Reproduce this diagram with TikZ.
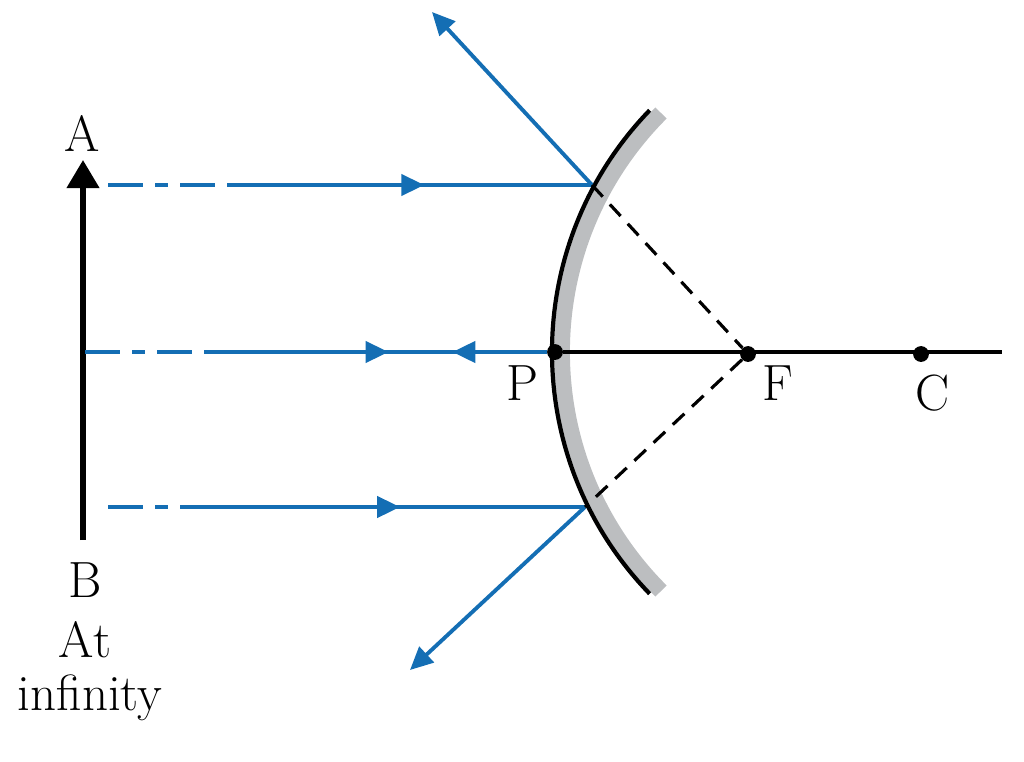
\documentclass[tikz,border=0pt]{standalone}
\usetikzlibrary{decorations.markings,arrows.meta}
\definecolor{rayblue}{RGB}{20,110,180}
\definecolor{mirgrey}{RGB}{188,190,192}
\begin{document}
\begin{tikzpicture}[x=0.02cm,y=-0.02cm,
  ray/.style={rayblue,line width=2.2pt},
  dd/.style={rayblue,line width=2.2pt,dash pattern=on 20pt off 7pt on 7pt off 7pt},
  midarr/.style={postaction={decorate},decoration={markings,mark=at position #1 with {\arrow{Triangle[length=13pt,width=12pt]}}}},
  lbl/.style={font=\fontsize{29}{31}\selectfont},
  dot/.style={circle,fill=black,inner sep=0pt,minimum size=9pt}]
\useasboundingbox (0,0) rectangle (1024,761);
% mirror
\draw[mirgrey,line width=9pt] (900,352) ++(135:338) arc (135:225:338);
\draw[black,line width=2.4pt] (900,352) ++(136:348) arc (136:224:348);
% axis
\coordinate (axend) at (1002,352);
\node[dot] (P) at (555,352) {};
\node[dot] (F) at (748,354) {};
\node[dot] (C) at (921,354) {};
\draw[line width=2.4pt] (P) -- (axend);
\node[lbl] at (522,383) {P};
\node[lbl] at (778,383) {F};
\node[lbl] at (933,393) {C};
% object
\coordinate (Bt) at (83,540);
\coordinate (At) at (83,160);
\draw[line width=3.2pt,-{Triangle[length=16pt,width=18pt]}] (Bt) -- (At);
\node[lbl] at (82,133) {A};
\node[lbl] at (85,580) {B};
\node[lbl] at (85,640) {At};
\node[lbl] at (90,698) {infinity};
% incident rays
\coordinate (a0) at (108,185); \coordinate (a1) at (235,185); \coordinate (a2) at (592,185);
\coordinate (m0) at (85,352); \coordinate (m1) at (210,352);
\coordinate (b0) at (108,507); \coordinate (b1) at (215,507); \coordinate (b2) at (585,507);
\draw[dd] (a0) -- (a1);
\draw[ray,midarr=0.53] (a1) -- (a2);
\draw[dd] (m0) -- (m1);
\draw[ray,midarr=0.53] (m1) -- (P);
\draw[ray,postaction={decorate},decoration={markings,mark=at position 0.72 with {\arrowreversed{Triangle[length=13pt,width=12pt]}}}] (m1) -- (P);
\draw[dd] (b0) -- (b1);
\draw[ray,midarr=0.5] (b1) -- (b2);
% reflected
\coordinate (ra) at (432,12); \coordinate (rb) at (410,670);
\draw[ray,-{Triangle[length=13pt,width=12pt]}] (a2) -- (ra);
\draw[ray,-{Triangle[length=13pt,width=12pt]}] (b2) -- (rb);
\draw[line width=1.8pt,dash pattern=on 9pt off 6pt] (a2) -- (F) -- (b2);
\end{tikzpicture}
\end{document}
